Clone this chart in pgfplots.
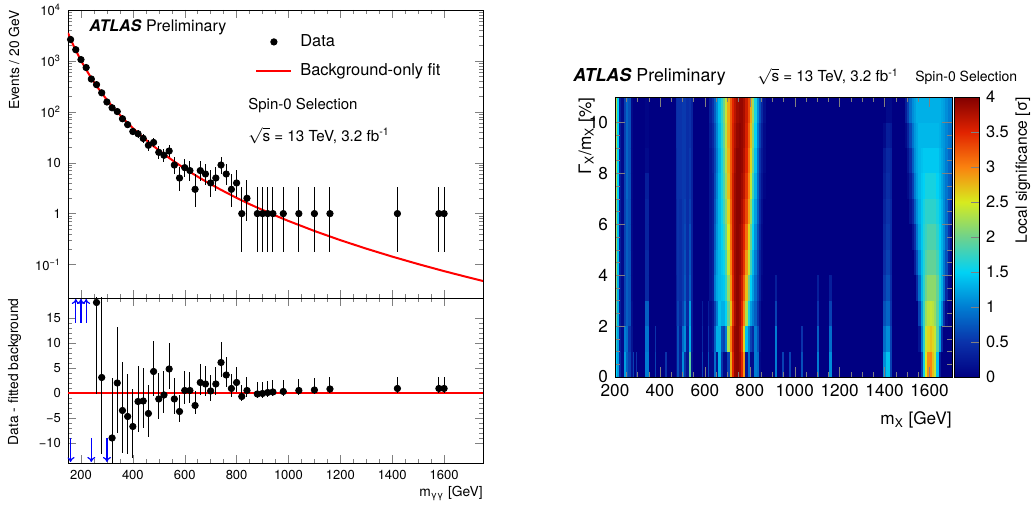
\documentclass[border=0pt]{standalone}
\usepackage{pgfplots}
\pgfplotsset{compat=1.18}
\usepackage{pgfplotstable}
\usepackage{fontspec}
\setmainfont{TeX Gyre Heros}
\setsansfont{TeX Gyre Heros}
\usetikzlibrary{arrows.meta}
\newcommand{\fs}[1]{\fontsize{#1pt}{#1pt}\selectfont}
\definecolor{hmnavy}{RGB}{0,0,130}
\pgfplotsset{/pgf/number format/assume math mode=true,/pgf/number format/1000 sep={}}

\pgfplotstableread{
x n lo hi
160 2630 51.3 52.3
180 1660 40.7 41.8
200 1060 32.5 33.6
220 740 27.2 28.2
240 440 21.0 22.0
260 341 18.4 19.5
280 236 15.3 16.4
300 156 12.4 13.5
320 120 10.9 12.0
340 101 10.0 11.1
360 73 8.5 9.6
380 56 7.5 8.5
400 41 6.4 7.4
420 37 6.1 7.1
440 30 5.5 6.5
460 22 4.7 5.7
480 25 5.0 6.0
500 16 4.0 5.1
520 14 3.7 4.8
540 17 4.1 5.2
560 9 2.94 4.11
580 5 2.16 3.38
600 8 2.77 3.95
620 7 2.58 3.77
640 3 1.63 2.92
660 7 2.58 3.77
680 6 2.38 3.58
700 4 1.91 3.16
720 5 2.16 3.38
740 9 2.94 4.11
760 6 2.38 3.58
780 3 1.63 2.92
800 4 1.91 3.16
820 1 0.827 2.3
840 2 1.29 2.64
880 1 0.827 2.3
900 1 0.827 2.3
920 1 0.827 2.3
940 1 0.827 2.3
980 1 0.827 2.3
1040 1 0.827 2.3
1100 1 0.827 2.3
1160 1 0.827 2.3
1420 1 0.827 2.3
1580 1 0.827 2.3
1600 1 0.827 2.3
}\datatop

\pgfplotstableread{
x r lo hi
260 18.1 18.4 19.5
280 3.1 15.3 16.4
320 -9.0 10.9 12.0
340 2.0 10.0 11.1
360 -3.5 8.5 9.6
380 -4.7 7.5 8.5
400 -6.7 6.4 7.4
420 -1.7 6.1 7.1
440 -1.6 5.5 6.5
460 -4.1 4.7 5.7
480 4.3 5.0 6.0
500 -1.2 4.0 5.1
520 -0.4 3.7 4.8
540 4.8 4.1 5.2
560 -1.2 2.94 4.11
580 -3.7 2.16 3.38
600 0.5 2.77 3.95
620 0.5 2.58 3.77
640 -2.5 1.63 2.92
660 2.1 2.58 3.77
680 1.8 2.38 3.58
700 0.4 1.91 3.16
720 1.8 2.16 3.38
740 6.1 2.94 4.11
760 3.6 2.38 3.58
780 0.9 1.63 2.92
800 2.1 1.91 3.16
820 -0.7 0.827 2.3
840 0.5 1.29 2.64
880 -0.2 0.827 2.3
900 -0.1 0.827 2.3
920 0.1 0.827 2.3
940 0.2 0.827 2.3
980 0.3 0.827 2.3
1040 0.5 0.827 2.3
1100 0.6 0.827 2.3
1160 0.8 0.827 2.3
1420 0.9 0.827 2.3
1580 0.9 0.827 2.3
1600 0.9 0.827 2.3
}\datares

\pgfplotstableread{
x y u v
160 -9 0 -4.8
240 -9 0 -4.8
300 -9 0 -4.8
180 14 0 4.8
200 14 0 4.8
220 14 0 4.8
}\arrowsres

% x = left edge of a cell, w = its width (GeV), r0..r10 = significance in rows 0-1 ... 10-11
\pgfplotstableread{
x w r0 r1 r2 r3 r4 r5 r6 r7 r8 r9 r10
200 10 1.5 1.7 2.0 2.1 2.2 2.2 2.2 2.3 2.3 2.3 2.3
210 10 1.2 1.2 1.3 1.3 1.4 1.4 1.4 1.5 1.5 1.5 1.5
220 8 0.4 0.3 0.3 0.3 0.3 0.3 0.3 0.3 0.3 0.3 0.3
228 12 0.1 0.1 0.1 0.1 0.1 0.1 0.1 0.1 0.1 0.1 0.1
240 10 1.2 1.0 0.6 0.6 0.6 0.6 0.6 0.6 0.6 0.6 0.6
250 10 0.8 0.9 0.8 0.8 0.8 0.8 0.8 0.85 0.85 0.85 0.85
260 10 0.6 0.5 0.7 0.7 0.7 0.7 0.7 0.7 0.7 0.7 0.7
270 8 0.2 0.2 0.15 0.1 0.1 0.1 0.1 0.1 0.1 0.1 0.1
278 5 0.6 0 0 0 0 0 0 0 0 0 0
283 9 0 0 0 0 0 0 0 0 0 0 0
292 5 0.5 0 0 0 0 0 0 0 0 0 0
297 38 0 0 0 0 0 0 0 0 0 0 0
335 15 1.0 0.95 0.8 0.4 0.4 0.35 0.35 0.3 0.1 0.05 0.05
350 28 0 0 0 0 0 0 0 0 0 0 0
378 6 0.6 0.5 0 0 0 0 0 0 0 0 0
384 40 0 0 0 0 0 0 0 0 0 0 0
424 6 0.5 0 0 0 0 0 0 0 0 0 0
430 40 0 0 0 0 0 0 0 0 0 0 0
470 8 0.2 0.2 0.3 0.3 0.35 0.35 0.35 0.4 0.4 0.45 0.45
478 7 0.7 0.7 0.6 0.5 0.5 0.5 0.5 0.5 0.5 0.5 0.5
485 15 0.3 0.3 0.4 0.45 0.45 0.45 0.45 0.5 0.5 0.5 0.5
500 5 1.1 0.9 0.6 0.55 0.55 0.55 0.55 0.55 0.55 0.55 0.55
505 13 0.5 1.1 0.9 0.75 0.7 0.65 0.6 0.55 0.55 0.55 0.55
518 10 0.2 0.3 0.4 0.45 0.45 0.45 0.45 0.45 0.45 0.45 0.45
528 12 1.9 1.3 1.2 0.8 0.75 0.7 0.6 0.55 0.55 0.5 0.5
540 8 0.2 0.3 0.3 0.35 0.35 0.35 0.35 0.35 0.35 0.35 0.35
548 38 0 0 0 0 0 0 0 0 0 0 0
586 6 0.6 0.4 0.3 0 0 0 0 0 0 0 0
592 22 0 0 0 0 0 0 0 0 0 0 0
614 6 0.7 0.5 0.3 0 0 0 0 0 0 0 0
620 10 0.1 0.1 0.1 0.2 0.2 0.2 0.2 0.2 0.2 0.25 0.3
630 10 0.1 0.2 0.2 0.3 0.3 0.3 0.3 0.3 0.35 0.4 0.5
640 10 0.9 0.8 0.6 1.0 0.9 0.8 0.75 0.7 0.65 0.7 0.8
650 10 0.2 1.3 1.0 1.25 1.2 1.15 1.1 1.05 1.0 1.05 1.1
660 10 1.3 1.3 1.4 1.35 1.35 1.35 1.35 1.35 1.3 1.35 1.4
670 10 0.5 0.7 1.3 1.4 1.45 1.5 1.55 1.6 1.6 1.65 1.7
680 10 0.1 0.6 1.3 1.45 1.55 1.7 1.8 1.85 1.9 1.95 2.0
690 10 0.1 1.0 1.5 1.7 1.85 2.0 2.1 2.2 2.3 2.35 2.4
700 10 0.6 2.3 2.0 2.2 2.4 2.5 2.6 2.7 2.75 2.8 2.8
710 10 2.8 3.0 2.7 2.9 3.0 3.1 3.15 3.2 3.2 3.2 3.2
720 10 3.5 3.6 3.4 3.5 3.55 3.6 3.6 3.6 3.55 3.55 3.5
730 10 3.9 3.9 3.8 3.85 3.85 3.85 3.85 3.85 3.8 3.75 3.7
740 10 3.95 3.95 3.95 3.95 3.95 3.95 3.95 3.95 3.95 3.9 3.85
750 10 3.85 3.8 3.85 3.85 3.9 3.9 3.95 3.95 3.95 3.95 3.9
760 10 3.5 3.4 3.5 3.6 3.7 3.75 3.8 3.85 3.9 3.9 3.9
770 10 2.9 2.6 3.0 3.2 3.4 3.5 3.6 3.7 3.75 3.8 3.8
780 10 0.2 1.4 2.3 2.7 2.9 3.1 3.3 3.4 3.5 3.55 3.6
790 10 0.9 1.0 1.6 2.0 2.4 2.6 2.85 3.0 3.1 3.2 3.3
800 10 0.1 0.6 1.2 1.5 1.8 2.0 2.2 2.4 2.6 2.7 2.8
810 10 0.1 0.4 1.0 1.2 1.35 1.5 1.6 1.8 2.0 2.1 2.2
820 10 1.0 1.0 0.8 0.9 1.0 1.1 1.2 1.3 1.4 1.5 1.6
830 10 0.9 0.7 0.5 0.6 0.65 0.7 0.8 0.85 0.9 1.0 1.1
840 10 0.1 0.2 0.2 0.3 0.3 0.35 0.4 0.45 0.5 0.6 0.7
850 10 0 0 0 0.05 0.1 0.1 0.15 0.2 0.25 0.3 0.4
860 10 0 0 0 0 0 0 0 0.05 0.1 0.1 0.15
870 40 0 0 0 0 0 0 0 0 0 0 0
910 10 1.0 1.0 0.6 0.3 0 0 0 0 0 0 0
920 23 0 0 0 0 0 0 0 0 0 0 0
943 7 0.6 0 0 0 0 0 0 0 0 0 0
950 26 0 0 0 0 0 0 0 0 0 0 0
976 8 0.6 0 0 0 0 0 0 0 0 0 0
984 44 0 0 0 0 0 0 0 0 0 0 0
1028 8 0.7 0.5 0 0 0 0 0 0 0 0 0
1036 62 0 0 0 0 0 0 0 0 0 0 0
1098 12 1.0 0.8 0.5 0.3 0 0 0 0 0 0 0
1110 42 0 0 0 0 0 0 0 0 0 0 0
1152 12 1.1 0.9 0.6 0.3 0 0 0 0 0 0 0
1164 231 0 0 0 0 0 0 0 0 0 0 0
1395 10 1.1 0.9 0.7 0.55 0.45 0.4 0.35 0.3 0.25 0.1 0
1405 20 1.4 1.1 0.85 0.7 0.6 0.55 0.5 0.45 0.4 0.3 0.1
1425 10 0.6 0.6 0.5 0.45 0.4 0.4 0.4 0.35 0.35 0.25 0.1
1435 55 0 0 0 0 0 0 0 0 0 0 0
1490 10 0 0 0 0 0 0 0 0 0 0.1 0.3
1500 10 0 0 0 0 0 0 0 0.1 0.2 0.35 0.6
1510 10 0 0 0 0 0 0 0.2 0.3 0.45 0.65 0.9
1520 10 0 0 0 0 0 0.2 0.4 0.6 0.8 0.95 1.1
1530 10 0 0 0 0 0.3 0.5 0.8 1.0 1.1 1.15 1.2
1540 10 0 0 0 0.4 0.7 0.95 1.1 1.2 1.25 1.25 1.3
1550 10 0 0.2 0.6 0.9 1.1 1.25 1.3 1.35 1.35 1.35 1.3
1560 10 0.6 1.0 1.2 1.35 1.4 1.45 1.45 1.45 1.4 1.35 1.3
1570 10 1.6 1.7 1.75 1.7 1.65 1.65 1.6 1.5 1.45 1.35 1.3
1580 10 2.5 2.4 2.2 2.0 1.85 1.75 1.7 1.6 1.45 1.35 1.3
1590 10 2.95 2.6 2.35 2.15 1.95 1.85 1.7 1.6 1.45 1.35 1.3
1600 10 3.0 2.7 2.4 2.15 1.95 1.85 1.7 1.6 1.45 1.35 1.3
1610 10 2.7 2.6 2.35 2.15 1.95 1.85 1.7 1.6 1.45 1.35 1.3
1620 10 2.4 2.4 2.2 2.15 1.95 1.85 1.7 1.6 1.45 1.35 1.3
1630 10 1.4 1.9 1.9 1.95 1.8 1.7 1.6 1.5 1.45 1.35 1.3
1640 10 0.3 1.2 1.5 1.6 1.55 1.5 1.45 1.4 1.35 1.3 1.3
1650 10 0 0.4 1.1 1.3 1.3 1.3 1.3 1.25 1.25 1.2 1.25
1660 10 0 0 0.5 0.9 1.0 1.1 1.1 1.1 1.15 1.15 1.2
1670 10 0 0 0.1 0.4 0.7 0.8 0.9 0.95 1.0 1.05 1.1
1680 10 0 0 0 0.1 0.3 0.5 0.6 0.8 0.85 0.95 1.0
1690 9 0 0 0 0 0.1 0.2 0.4 0.7 0.8 0.9 1.0
}\heat

\pgfplotsset{heatrow/.style={quiver={u=\thisrow{w}+1, v=0, colored=mapped color}, line width=12.85pt, line cap=butt}}

\begin{document}
\begin{tikzpicture}
\useasboundingbox (0,0) rectangle (517.5pt,253.5pt);

% ---------- top left: spectrum ----------
\begin{axis}[
  at={(34pt,104.5pt)}, anchor=south west,
  scale only axis, width=207.5pt, height=144pt,
  xmin=150, xmax=1750, ymode=log, ymin=0.022, ymax=10000,
  xtick={200,400,...,1600}, minor x tick num=3, xticklabels={},
  ytick={0.1,1,10,100,1000,10000},
  yticklabels={10\textsuperscript{−1},1,10,10\textsuperscript{2},10\textsuperscript{3},10\textsuperscript{4}},
  tick align=inside, major tick length=4pt, minor tick length=2pt,
  tick label style={font=\fs{6.5}},
  ylabel={Events / 20 GeV},
  ylabel style={at={(rel axis cs:-0.118,1)}, anchor=base east, inner sep=0pt, font=\fs{6.9}},
  legend style={at={(0.4506,0.927)}, anchor=north west, draw=none, fill=none,
    inner sep=0pt, row sep=4pt, column sep=2.5pt, font=\fs{8.2},
    nodes={inner sep=1.5pt, text height=6pt, text depth=1.5pt}},
  legend cell align=left, reverse legend,
]
\addplot[red, line width=1pt,
  legend image code/.code={\draw[red,line width=1pt] (0pt,0pt) -- (17.5pt,0pt);}]
  coordinates {(150,3550) (160,2685) (170,2064) (180,1611) (200,1018) (220,672)
  (240,459) (260,323) (280,233) (300,172) (320,129) (340,98.7) (360,76.6)
  (380,60.2) (400,47.9) (420,38.5) (440,31.2) (460,25.6) (480,21.1) (500,17.6)
  (520,14.7) (540,12.4) (560,10.5) (580,8.96) (600,7.67) (620,6.61) (640,5.71)
  (660,4.96) (680,4.33) (700,3.79) (740,2.93) (780,2.30) (800,2.04) (840,1.62)
  (880,1.31) (940,0.959) (1000,0.717) (1100,0.456) (1200,0.301) (1300,0.205)
  (1400,0.143) (1500,0.102) (1600,0.0741) (1700,0.0549) (1750,0.0475)};
\addlegendentry{Background-only fit}
\addplot[black, only marks, mark=*, mark size=1.6pt,
  legend image code/.code={\fill[black] (8.75pt,0pt) circle (1.6pt);},
  error bars/.cd, y dir=both, y explicit, error mark=none,
  error bar style={line width=0.5pt, black}]
  table[x=x, y=n, y error plus=hi, y error minus=lo] {\datatop};
\addlegendentry{Data}
\node[anchor=base west, inner sep=0pt, font=\fs{8}] at (rel axis cs:0.0506,0.924) {\textbf{\textit{ATLAS}} Preliminary};
\node[anchor=base west, inner sep=0pt, font=\fs{7.5}] at (rel axis cs:0.4337,0.653) {Spin-0 Selection};
\node[anchor=base west, inner sep=0pt, font=\fs{7.6}] at (rel axis cs:0.4337,0.545) {$\sqrt{\mbox{s}}$ = 13 TeV, 3.2 fb\textsuperscript{-1}};
\end{axis}

% ---------- bottom left: residuals ----------
\begin{axis}[
  at={(34pt,22pt)}, anchor=south west,
  scale only axis, width=207.5pt, height=82.5pt,
  xmin=150, xmax=1750, ymin=-14, ymax=19,
  xtick={200,400,...,1600}, minor x tick num=3,
  ytick={-10,-5,0,5,10,15}, yticklabels={−10,−5,0,5,10,15}, minor y tick num=4,
  tick align=inside, major tick length=4pt, minor tick length=2pt,
  tick label style={font=\fs{6.5}},
  xlabel={m\textsubscript{γγ} [GeV]},
  xlabel style={at={(rel axis cs:1,-0.206)}, anchor=base east, inner sep=0pt, font=\fs{6.9}},
  ylabel={Data - fitted background},
  ylabel style={at={(rel axis cs:-0.12,1)}, anchor=base east, inner sep=0pt, font=\fs{6.9}},
]
\addplot[red, line width=1.3pt] coordinates {(150,0) (1750,0)};
\addplot[black, only marks, mark=*, mark size=1.6pt,
  error bars/.cd, y dir=both, y explicit, error mark=none,
  error bar style={line width=0.5pt, black}]
  table[x=x, y=r, y error plus=hi, y error minus=lo] {\datares};
\addplot[blue, line width=0.6pt, -{To[length=2.5pt,width=4pt]},
  quiver={u=\thisrow{u}, v=\thisrow{v}}] table[x=x, y=y] {\arrowsres};
\end{axis}

% ---------- right: significance map ----------
\begin{axis}[
  at={(307.5pt,65pt)}, anchor=south west,
  scale only axis, width=168.5pt, height=140pt,
  xmin=200, xmax=1700, ymin=0, ymax=11, clip=false,
  axis on top,
  axis background/.style={fill=hmnavy},
  xtick={200,400,...,1600}, minor x tick num=3,
  ytick={0,2,...,10}, minor y tick num=3,
  tick align=inside, major tick length=5pt, minor tick length=2.5pt,
  tick label style={font=\fs{8.6}},
  colormap={sig}{rgb255(0cm)=(0,0,130) rgb255(1cm)=(10,50,170) rgb255(2cm)=(0,125,210)
    rgb255(3cm)=(0,210,245) rgb255(4cm)=(110,210,140) rgb255(5cm)=(215,235,30)
    rgb255(6cm)=(250,130,15) rgb255(7cm)=(225,35,0) rgb255(8cm)=(130,0,0)},
  point meta min=0, point meta max=4,
  colorbar,
  colorbar shift/.style={xshift=1pt},
  colorbar style={at={(parent axis.north east)}, anchor=north west,
    width=12.5pt, ytick={0,0.5,...,4}, yticklabel pos=right, ytick pos=right,
    tick align=inside, major tick length=4pt,
    tick label style={font=\fs{8.2}},
    ylabel={Local significance [σ]},
    ylabel style={at={(rel axis cs:2.44,1)}, anchor=north east, inner sep=0pt, font=\fs{7.8}}},
  xlabel={m\textsubscript{X} [GeV]},
  xlabel style={at={(rel axis cs:1,-0.1714)}, anchor=base east, inner sep=0pt, font=\fs{8.6}},
  ylabel={Γ\textsubscript{X}/m\textsubscript{X} [\%]},
  ylabel style={at={(rel axis cs:-0.071,1)}, anchor=base east, inner sep=0pt, font=\fs{8.6}},
]
\addplot[heatrow, point meta=\thisrow{r0}] table[x=x, y expr=0.5] {\heat};
\addplot[heatrow, point meta=\thisrow{r1}] table[x=x, y expr=1.5] {\heat};
\addplot[heatrow, point meta=\thisrow{r2}] table[x=x, y expr=2.5] {\heat};
\addplot[heatrow, point meta=\thisrow{r3}] table[x=x, y expr=3.5] {\heat};
\addplot[heatrow, point meta=\thisrow{r4}] table[x=x, y expr=4.5] {\heat};
\addplot[heatrow, point meta=\thisrow{r5}] table[x=x, y expr=5.5] {\heat};
\addplot[heatrow, point meta=\thisrow{r6}] table[x=x, y expr=6.5] {\heat};
\addplot[heatrow, point meta=\thisrow{r7}] table[x=x, y expr=7.5] {\heat};
\addplot[heatrow, point meta=\thisrow{r8}] table[x=x, y expr=8.5] {\heat};
\addplot[heatrow, point meta=\thisrow{r9}] table[x=x, y expr=9.5] {\heat};
\addplot[heatrow, point meta=\thisrow{r10}] table[x=x, y expr=10.5] {\heat};
\node[anchor=base west, inner sep=0pt, font=\fs{8.9}] at (rel axis cs:-0.1246,1.0536) {\textbf{\textit{ATLAS}} Preliminary};
\node[anchor=base west, inner sep=0pt, font=\fs{7.6}] at (rel axis cs:0.4214,1.0536) {$\sqrt{\mbox{s}}$ = 13 TeV, 3.2 fb\textsuperscript{-1}};
\node[anchor=base west, inner sep=0pt, font=\fs{7.0}] at (rel axis cs:0.890,1.0536) {Spin-0 Selection};
\end{axis}
\end{tikzpicture}
\end{document}
